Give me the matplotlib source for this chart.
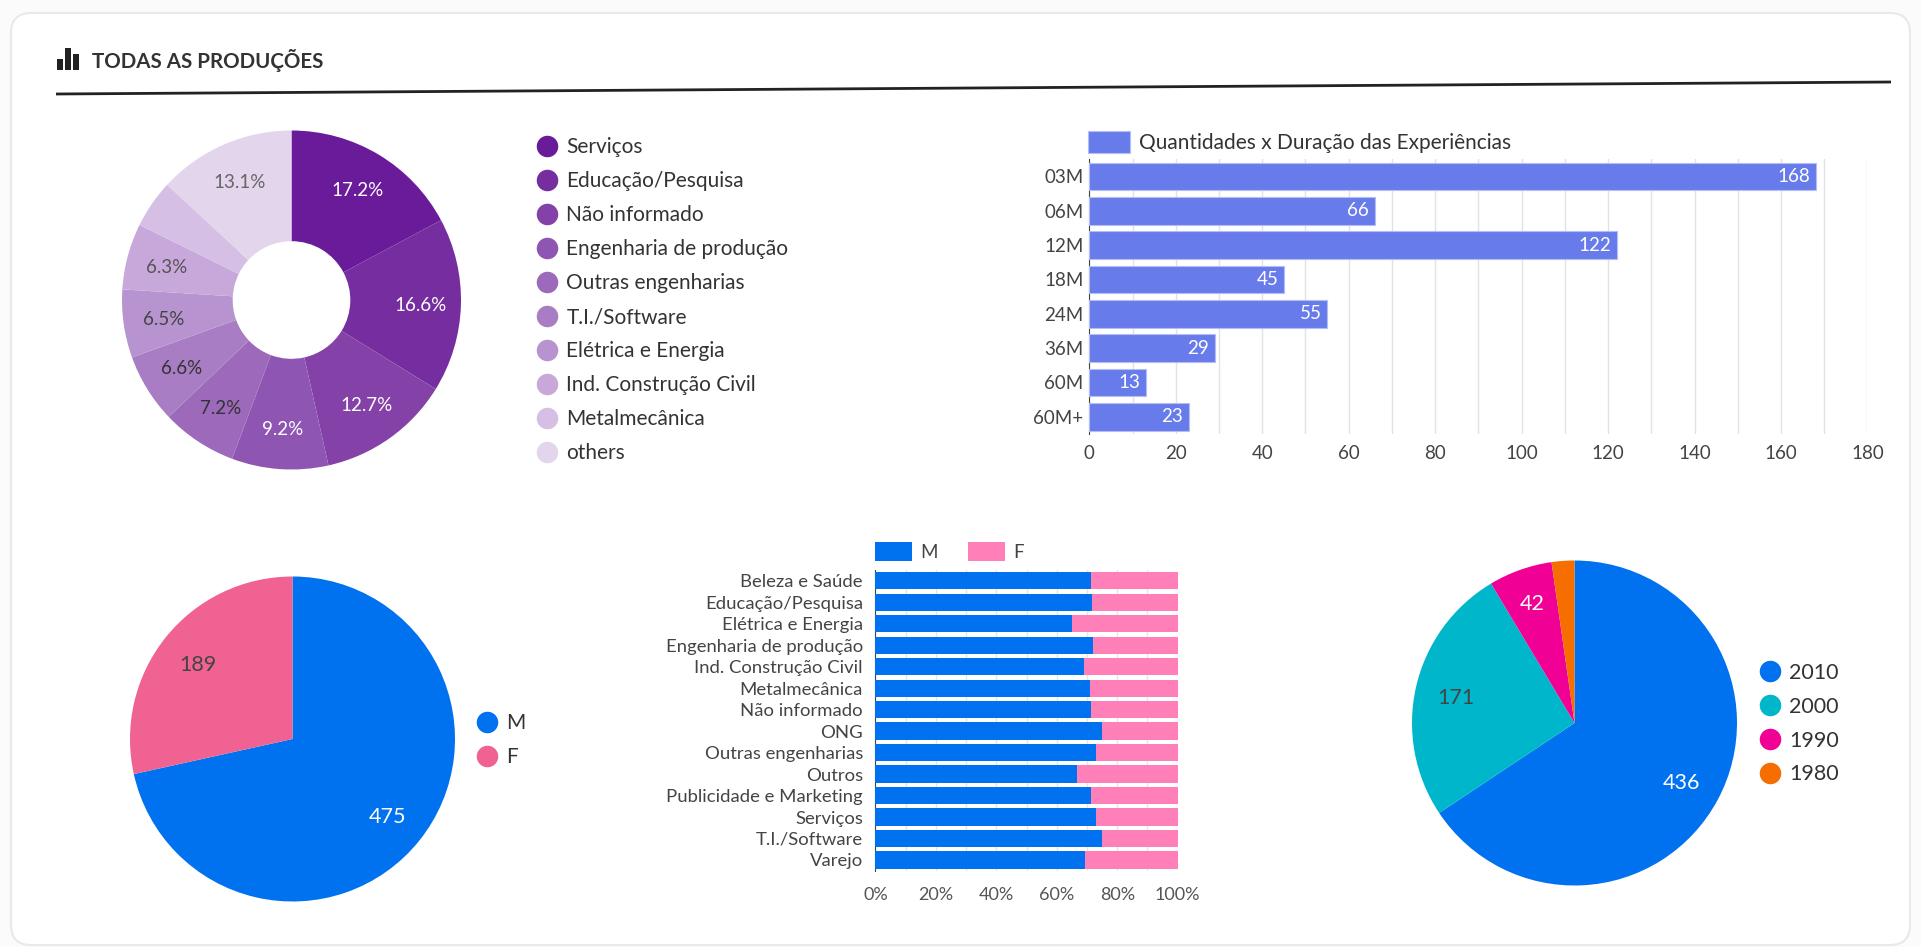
import matplotlib
matplotlib.use("Agg")
import matplotlib.pyplot as plt
from matplotlib.patches import FancyBboxPatch, Rectangle
from matplotlib.lines import Line2D

plt.rcParams['font.family'] = ['Lato', 'Open Sans', 'DejaVu Sans']

W, H = 1921, 947

# ---- data ----
sector_labels = ["Serviços", "Educação/Pesquisa", "Não informado", "Engenharia de produção",
                 "Outras engenharias", "T.I./Software", "Elétrica e Energia",
                 "Ind. Construção Civil", "Metalmecânica", "others"]
sector_values = [17.2, 16.6, 12.7, 9.2, 7.2, 6.6, 6.5, 6.3, 4.6, 13.1]
sector_colors = ["#6a1b9a", "#752da0", "#8442a9", "#8e55b2", "#9c69bb",
                 "#a97dc4", "#b794d0", "#c8a8da", "#d6bfe4", "#e3d5ec"]
sector_text = ["white", "white", "white", "white", "#333333", "#333333", "#444444", "#555555", "#555555", "#666666"]

duration_labels = ["03M", "06M", "12M", "18M", "24M", "36M", "60M", "60M+"]
duration_values = [168, 66, 122, 45, 55, 29, 13, 23]

gender_labels = ["M", "F"]
gender_values = [475, 189]

stack_labels = ["Beleza e Saúde", "Educação/Pesquisa", "Elétrica e Energia", "Engenharia de produção",
                "Ind. Construção Civil", "Metalmecânica", "Não informado", "ONG",
                "Outras engenharias", "Outros", "Publicidade e Marketing", "Serviços",
                "T.I./Software", "Varejo"]
stack_m = [71.3, 71.5, 65.2, 72.0, 69.0, 70.9, 71.3, 74.8, 72.9, 66.7, 71.3, 72.9, 74.8, 69.4]
stack_f = [28.7, 28.5, 34.8, 28.0, 31.0, 29.1, 28.7, 25.2, 27.1, 33.3, 28.7, 27.1, 25.2, 30.6]

decade_labels = ["2010", "2000", "1990", "1980"]
decade_values = [436, 171, 42, 15]
decade_colors = ["#0072f0", "#00b6cb", "#f10096", "#f66d00"]

# ---- helpers ----
fig = plt.figure(figsize=(W / 100, H / 100), dpi=100, facecolor="#fbfbfb")


def box(x0, y0, x1, y1, **kw):
    return fig.add_axes([x0 / W, 1 - y1 / H, (x1 - x0) / W, (y1 - y0) / H], **kw)


def dot_legend(ax, labels, colors, x, y, size=15, spacing=0.674):
    handles = [Line2D([], [], ls="", marker="o", ms=15.5, mfc=c, mec="none") for c in colors]
    return ax.legend(handles, labels, loc="upper left", bbox_to_anchor=(x / W, 1 - y / H),
                     bbox_transform=fig.transFigure, frameon=False, fontsize=size,
                     labelcolor="#333333", borderpad=0, borderaxespad=0, handletextpad=0.17,
                     handlelength=1.5, labelspacing=spacing)


def pie(ax, values, colors, text_colors, fmt, dist=0.75, hole=None, size=15.5, drop=0.012):
    wp = {"linewidth": 0, "antialiased": True}
    if hole:
        wp["width"] = 1 - hole
    wedges, _, auto = ax.pie(values, colors=colors, startangle=90, counterclock=False,
                             radius=1, wedgeprops=wp, autopct=fmt, pctdistance=dist,
                             textprops={"fontsize": size})
    for t, c in zip(auto, text_colors):
        t.set_color(c)
        x, y = t.get_position()
        t.set_position((x, y - drop))
    ax.set_xlim(-1, 1)
    ax.set_ylim(-1, 1)
    return wedges, auto


# ---- card & header ----
bg = fig.add_axes([0, 0, 1, 1])
bg.set_xlim(0, W)
bg.set_ylim(H, 0)
bg.axis("off")
bg.add_patch(FancyBboxPatch((11, 13), 1899, 932, boxstyle="round,pad=0,rounding_size=20",
                            fc="white", ec="#e9e9e9", lw=1.5))
for x0, top, wid in [(57, 59, 6), (65, 48, 6), (73, 54, 6)]:
    bg.add_patch(Rectangle((x0, top), wid, 70 - top, fc="#222222", ec="none"))
bg.text(92, 60.5, "TODAS AS PRODUÇÕES", fontsize=14.8, fontweight="bold", color="#333333",
        ha="left", va="center")
bg.plot([56, 1891], [94, 82], color="#222222", lw=2, solid_capstyle="butt")

# ---- donut ----
ax1 = box(122, 130, 461, 470)
w, auto = pie(ax1, sector_values, sector_colors, sector_text,
              lambda p: f"{p:.1f}%" if p >= 5 else "", dist=0.76, hole=0.347, size=13.5, drop=0.006)
dot_legend(ax1, sector_labels, sector_colors, 531.5, 137)

# ---- duration bars ----
ax2 = box(1089.3, 159.3, 1867.5, 434)
bars = ax2.barh(duration_labels, duration_values, height=0.8, color="#687bea",
                edgecolor="#b4bef5", linewidth=0.8, zorder=3,
                label="Quantidades x Duração das Experiências")
ax2.set_xlim(0, 180)
ax2.set_ylim(len(duration_labels) - 0.5, -0.5)
ax2.set_xticks(range(0, 181, 20))
ax2.set_xticks(range(10, 180, 20), minor=True)
ax2.grid(axis="x", which="both", color="#e2e2e2", lw=1, zorder=0)
ax2.set_axisbelow(True)
ax2.tick_params(which="both", length=0)
ax2.tick_params(axis="y", labelsize=13.5, labelcolor="#444444", pad=4)
ax2.tick_params(axis="x", labelsize=13.5, labelcolor="#444444", pad=8)
for side in ["top", "right", "bottom"]:
    ax2.spines[side].set_visible(False)
ax2.spines["left"].set_color("#444444")
for t in ax2.bar_label(bars, padding=-4, color="white", fontsize=13.5):
    t.set_ha("right")
ax2.legend(loc="upper left", bbox_to_anchor=(1088 / W, 1 - 131.5 / H), bbox_transform=fig.transFigure,
           frameon=False, fontsize=15, labelcolor="#333333", borderpad=0, borderaxespad=0,
           handlelength=2.0, handleheight=1.2, handletextpad=0.45)

# ---- gender pie ----
ax3 = box(130, 576.5, 455, 901.5)
pie(ax3, gender_values, ["#0072f0", "#f06292"], ["white", "#444444"], lambda p: f"{p * sum(gender_values) / 100:.0f}")
dot_legend(ax3, gender_labels, ["#0072f0", "#f06292"], 471.5, 713, size=15)

# ---- stacked bars ----
ax4 = box(875.4, 570, 1177.7, 870.7)
ax4.barh(stack_labels, stack_m, height=0.8, color="#0072f0", zorder=3, label="M")
ax4.barh(stack_labels, stack_f, left=stack_m, height=0.8, color="#ff80b9", zorder=3, label="F")
ax4.set_xlim(0, 100)
ax4.set_ylim(len(stack_labels) - 0.5, -0.5)
ax4.set_xticks(range(0, 101, 20))
ax4.set_xticklabels([f"{v}%" for v in range(0, 101, 20)])
ax4.set_xticks(range(10, 100, 20), minor=True)
ax4.grid(axis="x", which="both", color="#e6e6e6", lw=1, zorder=0)
ax4.set_axisbelow(True)
ax4.tick_params(which="both", length=0)
ax4.tick_params(axis="y", labelsize=13.3, labelcolor="#444444", pad=9)
ax4.tick_params(axis="x", labelsize=13, labelcolor="#555555", pad=11.5)
for side in ["top", "right", "bottom"]:
    ax4.spines[side].set_visible(False)
ax4.spines["left"].set_color("#444444")
ax4.legend(loc="upper left", bbox_to_anchor=(874.5 / W, 1 - 542 / H), bbox_transform=fig.transFigure,
           ncol=2, frameon=False, fontsize=13.5, labelcolor="#444444", borderpad=0, borderaxespad=0,
           handlelength=1.98, handleheight=1.2, handletextpad=0.45, columnspacing=1.6)

# ---- decade pie ----
ax5 = box(1412, 560.5, 1737, 885.5)
_, auto5 = pie(ax5, decade_values, decade_colors, ["white", "#444444", "white", "white"],
               lambda p: f"{p * sum(decade_values) / 100:.0f}" if p >= 5 else "")
x, y = auto5[2].get_position()
auto5[2].set_position((x * 1.05, y * 1.05))
dot_legend(ax5, decade_labels, decade_colors, 1753.5, 663, size=15.5, spacing=0.64)

fig.savefig("out.png", dpi=100, facecolor=fig.get_facecolor())
